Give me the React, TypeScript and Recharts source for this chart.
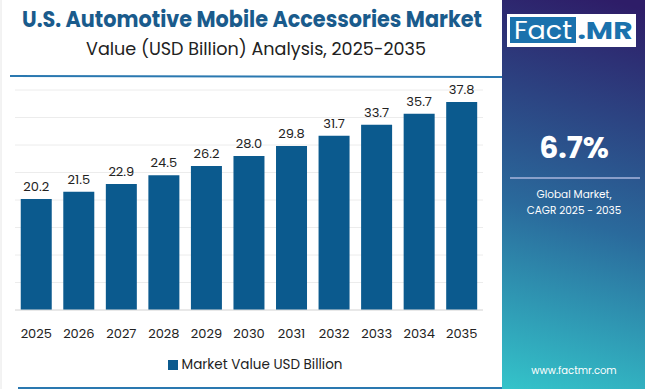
import { BarChart, Bar, XAxis, YAxis, CartesianGrid, Legend, LabelList } from "recharts";

const years = ["2025", "2026", "2027", "2028", "2029", "2030", "2031", "2032", "2033", "2034", "2035"];
const marketValue = [20.2, 21.5, 22.9, 24.5, 26.2, 28.0, 29.8, 31.7, 33.7, 35.7, 37.8];
const yTicks = [0, 5, 10, 15, 20, 25, 30, 35, 40];

const data = years.map((year, i) => ({ year, value: marketValue[i] }));

const FONT = "Poppins, 'Open Sans', 'DejaVu Sans', sans-serif";
const BAR_COLOR = "#0b5a8e";

export default function App() {
  return (
    <div style={{ position: "absolute", left: 0, top: 0, width: 650, height: 389, background: "#fff", fontFamily: FONT }}>
      <svg width={650} height={389} style={{ position: "absolute", left: 0, top: 0 }}>
        <defs>
          <linearGradient id="panel" gradientUnits="userSpaceOnUse" x1={502} y1={389} x2={610} y2={0}>
            <stop offset="0" stopColor="#34c4ca" />
            <stop offset="0.45" stopColor="#2a6a9c" />
            <stop offset="1" stopColor="#2e1d68" />
          </linearGradient>
        </defs>
        <rect x={0} y={0} width={502} height={389} fill="#fff" />
        <line x1={1} y1={0} x2={1} y2={389} stroke="#e6e6e6" />
        <text x={252} y={27} textAnchor="middle" fontSize={22} fontWeight={700} fill="#1a5b8c" textLength={460} lengthAdjust="spacingAndGlyphs">
          U.S. Automotive Mobile Accessories Market
        </text>
        <text x={256} y={55} textAnchor="middle" fontSize={17} fill="#222" textLength={340} lengthAdjust="spacingAndGlyphs">
          Value (USD Billion) Analysis, 2025-2035
        </text>
        <line x1={10} y1={76} x2={502} y2={77} stroke="#2a78b0" strokeWidth={2} />
        <line x1={18} y1={388} x2={502} y2={388} stroke="#2a78b0" strokeWidth={2} />

        <rect x={502} y={0} width={143} height={389} fill="url(#panel)" />
        <rect x={507} y={14} width={129} height={33} fill="#fff" />
        <rect x={510} y={17} width={66} height={26} fill="#1b72ad" />
        <text x={543} y={39} textAnchor="middle" fontSize={25} fill="#fff" textLength={58} lengthAdjust="spacingAndGlyphs">Fact</text>
        <text x={605} y={39} textAnchor="middle" fontSize={25} fontWeight={700} fill="#1b72ad" textLength={55} lengthAdjust="spacingAndGlyphs">.MR</text>
        <text x={574} y={158} textAnchor="middle" fontSize={30} fontWeight={700} fill="#fff">6.7%</text>
        <line x1={510} y1={178} x2={640} y2={178} stroke="#aab6dd" strokeWidth={1.5} />
        <text x={574} y={198} textAnchor="middle" fontSize={10.5} fill="#fff">Global Market,</text>
        <text x={574} y={214} textAnchor="middle" fontSize={10.5} fill="#fff">CAGR 2025 - 2035</text>
        <text x={574} y={374} textAnchor="middle" fontSize={10} fill="#fff">www.factmr.com</text>
      </svg>

      <div style={{ position: "absolute", left: 0, top: 0 }}>
        <BarChart
          width={500}
          height={389}
          data={data}
          margin={{ top: 90, right: 17, left: 15, bottom: 13 }}
          barCategoryGap="13.5%"
        >
          <CartesianGrid vertical={false} stroke="#ececec" />
          <YAxis hide domain={[0, 40]} ticks={yTicks} />
          <XAxis
            dataKey="year"
            tickLine={false}
            axisLine={{ stroke: "#dcdcdc" }}
            tick={{ fontSize: 13, fill: "#222", fontFamily: FONT }}
            tickMargin={13}
            height={41}
          />
          <Legend
            verticalAlign="bottom"
            iconType="square"
            iconSize={10}
            wrapperStyle={{ paddingLeft: 11 }}
            formatter={(v) => <span style={{ color: "#222", fontSize: 13.5, fontFamily: FONT }}>{v}</span>}
          />
          <Bar dataKey="value" name="Market Value USD Billion" fill={BAR_COLOR} isAnimationActive={false}>
            <LabelList dataKey="value" position="top" offset={8} fill="#222" fontSize={13} fontFamily={FONT} formatter={(v: number) => v.toFixed(1)} />
          </Bar>
        </BarChart>
      </div>
    </div>
  );
}
